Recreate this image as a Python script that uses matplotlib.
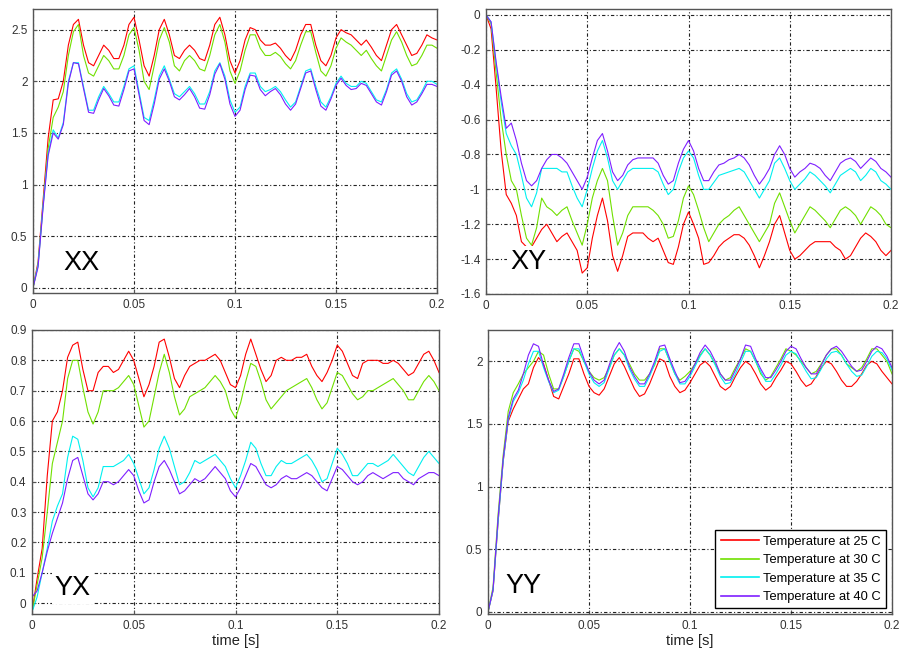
import numpy as np
import matplotlib
matplotlib.use('Agg')
from matplotlib import pyplot as plt
from matplotlib.ticker import FormatStrFormatter

plt.rcParams['font.family'] = ['Liberation Sans', 'DejaVu Sans']

# time axis, one sample every 2.5 ms
t = np.linspace(0, 0.2, 81)

labels = ['Temperature at 25 C', 'Temperature at 30 C',
          'Temperature at 35 C', 'Temperature at 40 C']
colors = ['#ff0000', '#70e000', '#00f0f0', '#7f1fff']

# XX response
xx_25 = [0, 0.25, 0.85, 1.45, 1.82, 1.83, 2.0, 2.35, 2.55, 2.6,
         2.35, 2.18, 2.15, 2.25, 2.35, 2.3, 2.22, 2.22, 2.35, 2.55,
         2.62, 2.4, 2.15, 2.05, 2.25, 2.5, 2.6, 2.45, 2.25, 2.22,
         2.3, 2.35, 2.3, 2.22, 2.2, 2.35, 2.55, 2.62, 2.45, 2.2,
         2.08, 2.2, 2.4, 2.52, 2.5, 2.4, 2.35, 2.35, 2.37, 2.32,
         2.25, 2.2, 2.3, 2.45, 2.55, 2.55, 2.35, 2.2, 2.15, 2.25,
         2.42, 2.5, 2.47, 2.45, 2.4, 2.35, 2.4, 2.33, 2.25, 2.2,
         2.35, 2.5, 2.55, 2.45, 2.35, 2.25, 2.27, 2.35, 2.45, 2.42,
         2.4]
xx_30 = [0, 0.22, 0.8, 1.35, 1.65, 1.75, 1.9, 2.25, 2.48, 2.55,
         2.25, 2.08, 2.05, 2.15, 2.25, 2.2, 2.12, 2.12, 2.25, 2.45,
         2.52, 2.3, 2.0, 1.92, 2.15, 2.4, 2.52, 2.38, 2.15, 2.1,
         2.2, 2.25, 2.2, 2.12, 2.1, 2.25, 2.45, 2.55, 2.38, 2.1,
         1.98, 2.1, 2.3, 2.45, 2.45, 2.32, 2.25, 2.25, 2.28, 2.24,
         2.17, 2.12, 2.2, 2.35, 2.48, 2.48, 2.28, 2.1, 2.05, 2.15,
         2.32, 2.42, 2.38, 2.35, 2.3, 2.25, 2.3, 2.22, 2.15, 2.1,
         2.25, 2.4, 2.48, 2.38, 2.25, 2.15, 2.17, 2.25, 2.35, 2.35,
         2.32]
xx_35 = [0, 0.22, 0.8, 1.3, 1.53, 1.45, 1.6, 2.0, 2.18, 2.18,
         1.95, 1.72, 1.72, 1.85, 1.95, 1.88, 1.8, 1.8, 1.95, 2.12,
         2.15, 1.9, 1.65, 1.62, 1.82, 2.05, 2.15, 2.02, 1.88, 1.85,
         1.9, 1.95, 1.88, 1.78, 1.78, 1.9, 2.1, 2.18, 2.05, 1.82,
         1.7, 1.75, 1.95, 2.08, 2.08, 1.95, 1.9, 1.92, 1.95, 1.9,
         1.82, 1.75, 1.8, 1.95, 2.1, 2.12, 1.95, 1.8, 1.75, 1.85,
         1.98, 2.05, 1.98, 1.95, 1.95, 2.0, 1.98, 1.9, 1.82, 1.8,
         1.92, 2.08, 2.12, 2.02, 1.88, 1.8, 1.82, 1.9, 2.0, 2.0,
         1.97]
xx_40 = [0, 0.2, 0.78, 1.28, 1.5, 1.44, 1.58, 1.98, 2.18, 2.17,
         1.93, 1.7, 1.69, 1.82, 1.93, 1.86, 1.77, 1.76, 1.92, 2.1,
         2.12, 1.87, 1.62, 1.58, 1.78, 2.02, 2.12, 2.0, 1.85, 1.82,
         1.87, 1.93, 1.85, 1.74, 1.73, 1.87, 2.07, 2.17, 2.02, 1.78,
         1.66, 1.72, 1.92, 2.06, 2.05, 1.92, 1.86, 1.9, 1.93, 1.87,
         1.78, 1.72, 1.78, 1.93, 2.08, 2.1, 1.92, 1.76, 1.72, 1.83,
         1.96, 2.03, 1.96, 1.92, 1.93, 1.98, 1.96, 1.88, 1.8, 1.77,
         1.9, 2.06, 2.1, 2.0, 1.85, 1.77, 1.8, 1.88, 1.97, 1.97,
         1.95]

# XY response
xy_25 = [0, -0.08, -0.42, -0.78, -1.03, -1.08, -1.15, -1.3, -1.33, -1.33,
         -1.28, -1.23, -1.2, -1.25, -1.3, -1.27, -1.25, -1.3, -1.35, -1.48,
         -1.45, -1.28, -1.15, -1.05, -1.18, -1.38, -1.47, -1.38, -1.27, -1.25,
         -1.25, -1.25, -1.28, -1.3, -1.28, -1.35, -1.42, -1.43, -1.33, -1.2,
         -1.13, -1.2, -1.28, -1.43, -1.42, -1.38, -1.33, -1.3, -1.28, -1.26,
         -1.26, -1.28, -1.32, -1.38, -1.45, -1.38, -1.3, -1.2, -1.15, -1.25,
         -1.35, -1.4, -1.38, -1.35, -1.32, -1.3, -1.3, -1.3, -1.3, -1.33,
         -1.35, -1.4, -1.38, -1.33, -1.28, -1.25, -1.27, -1.3, -1.35, -1.38,
         -1.35]
xy_30 = [0, -0.05, -0.33, -0.6, -0.8, -0.95, -1.0, -1.15, -1.28, -1.32,
         -1.22, -1.05, -1.1, -1.12, -1.15, -1.12, -1.1, -1.18, -1.25, -1.32,
         -1.2, -1.05, -0.95, -0.88, -0.95, -1.15, -1.32, -1.25, -1.15, -1.1,
         -1.1, -1.1, -1.1, -1.12, -1.15, -1.2, -1.28, -1.27, -1.18, -1.05,
         -0.98, -1.03, -1.12, -1.22, -1.3, -1.25, -1.2, -1.17, -1.15, -1.12,
         -1.1, -1.15, -1.2, -1.25, -1.3, -1.25, -1.2, -1.08, -1.02, -1.1,
         -1.18, -1.25, -1.2, -1.15, -1.1, -1.12, -1.15, -1.18, -1.22, -1.17,
         -1.12, -1.1, -1.12, -1.15, -1.2, -1.15, -1.1, -1.12, -1.15, -1.2,
         -1.22]
xy_35 = [0, -0.04, -0.28, -0.5, -0.68, -0.75, -0.8, -0.92, -1.05, -1.1,
         -1.02, -0.88, -0.88, -0.88, -0.88, -0.9, -0.9, -0.98, -1.05, -1.1,
         -1.0, -0.88, -0.78, -0.72, -0.82, -0.95, -1.0, -0.95, -0.9, -0.88,
         -0.88, -0.88, -0.88, -0.88, -0.9, -0.97, -1.03, -1.0, -0.9, -0.82,
         -0.78, -0.82, -0.92, -1.0, -1.0, -0.96, -0.92, -0.91, -0.9, -0.89,
         -0.88, -0.9, -0.95, -1.0, -1.05, -1.0, -0.95, -0.85, -0.82, -0.88,
         -0.95, -1.0, -0.97, -0.94, -0.9, -0.92, -0.95, -0.98, -1.02, -0.97,
         -0.92, -0.9, -0.88, -0.9, -0.95, -0.92, -0.88, -0.9, -0.95, -0.97,
         -1.0]
xy_40 = [0, -0.04, -0.27, -0.47, -0.65, -0.62, -0.72, -0.85, -0.95, -0.98,
         -0.95, -0.88, -0.83, -0.8, -0.8, -0.82, -0.85, -0.9, -0.95, -1.0,
         -0.93, -0.82, -0.72, -0.68, -0.78, -0.9, -0.95, -0.92, -0.86, -0.83,
         -0.82, -0.82, -0.82, -0.82, -0.85, -0.92, -0.97, -0.95, -0.85, -0.77,
         -0.72, -0.78, -0.88, -0.95, -0.95, -0.9, -0.86, -0.85, -0.83, -0.82,
         -0.8, -0.82, -0.86, -0.92, -0.97, -0.93, -0.88, -0.8, -0.75, -0.8,
         -0.88, -0.93, -0.9, -0.88, -0.85, -0.86, -0.88, -0.92, -0.95, -0.9,
         -0.85, -0.83, -0.82, -0.84, -0.88, -0.85, -0.82, -0.84, -0.88, -0.9,
         -0.93]

# YX response
yx_25 = [-0.03, 0.08, 0.18, 0.42, 0.6, 0.63, 0.7, 0.81, 0.85, 0.86,
         0.77, 0.7, 0.7, 0.76, 0.78, 0.78, 0.76, 0.77, 0.8, 0.83,
         0.8, 0.74, 0.68, 0.72, 0.78, 0.86, 0.87, 0.81, 0.74, 0.71,
         0.75, 0.78, 0.79, 0.8, 0.8, 0.81, 0.82, 0.8, 0.76, 0.72,
         0.71, 0.75, 0.82, 0.87, 0.82, 0.77, 0.73, 0.75, 0.8, 0.81,
         0.8, 0.8, 0.81, 0.81, 0.82, 0.78, 0.75, 0.73, 0.76, 0.8,
         0.85, 0.83, 0.79, 0.75, 0.74, 0.79, 0.8, 0.8, 0.8, 0.79,
         0.79, 0.8, 0.79, 0.77, 0.75, 0.76, 0.79, 0.82, 0.83, 0.8,
         0.76]
yx_30 = [-0.03, 0.06, 0.15, 0.3, 0.46, 0.53, 0.6, 0.74, 0.8, 0.8,
         0.71, 0.63, 0.59, 0.63, 0.7, 0.7, 0.7, 0.71, 0.73, 0.75,
         0.72, 0.65, 0.58, 0.6, 0.68, 0.76, 0.82, 0.76, 0.68, 0.62,
         0.64, 0.68, 0.69, 0.7, 0.71, 0.73, 0.75, 0.73, 0.7, 0.64,
         0.61, 0.66, 0.73, 0.79, 0.78, 0.73, 0.67, 0.64, 0.66, 0.68,
         0.7, 0.71, 0.72, 0.73, 0.74, 0.71, 0.67, 0.64, 0.66, 0.71,
         0.76, 0.75, 0.72, 0.69, 0.67, 0.68, 0.7, 0.7, 0.71, 0.72,
         0.73, 0.74, 0.72, 0.7, 0.67, 0.67, 0.7, 0.73, 0.75, 0.73,
         0.7]
yx_35 = [-0.03, 0.02, 0.1, 0.18, 0.27, 0.32, 0.36, 0.48, 0.55, 0.54,
         0.47, 0.38, 0.35, 0.38, 0.45, 0.45, 0.45, 0.46, 0.47, 0.49,
         0.46, 0.41, 0.36, 0.38, 0.44, 0.51, 0.55, 0.51, 0.45, 0.39,
         0.4, 0.43, 0.47, 0.46, 0.47, 0.48, 0.49, 0.47, 0.45, 0.41,
         0.38, 0.42, 0.47, 0.53, 0.51, 0.46, 0.42, 0.42, 0.45, 0.47,
         0.46, 0.46, 0.47, 0.48, 0.49, 0.47, 0.44, 0.4, 0.41, 0.46,
         0.51, 0.49, 0.46, 0.42, 0.42, 0.44, 0.46, 0.46, 0.45, 0.46,
         0.47, 0.49, 0.47, 0.45, 0.43, 0.42, 0.45, 0.48, 0.5, 0.48,
         0.46]
yx_40 = [0.02, 0.04, 0.1, 0.17, 0.23, 0.28, 0.33, 0.41, 0.47, 0.48,
         0.42, 0.36, 0.34, 0.36, 0.4, 0.4, 0.39, 0.4, 0.42, 0.44,
         0.42, 0.37, 0.33, 0.34, 0.4, 0.45, 0.47, 0.44, 0.4, 0.36,
         0.37, 0.39, 0.41, 0.4, 0.41, 0.43, 0.45, 0.43, 0.41, 0.37,
         0.35, 0.38, 0.42, 0.46, 0.45, 0.42, 0.39, 0.38, 0.39, 0.41,
         0.42, 0.41, 0.41, 0.42, 0.43, 0.42, 0.4, 0.38, 0.37, 0.41,
         0.45, 0.44, 0.42, 0.4, 0.39, 0.4, 0.42, 0.43, 0.42, 0.41,
         0.42, 0.43, 0.43, 0.41, 0.4, 0.39, 0.41, 0.42, 0.43, 0.43,
         0.42]

# YY response
yy_25 = [0, 0.17, 0.72, 1.2, 1.52, 1.62, 1.7, 1.78, 1.82, 1.95,
         2.03, 1.98, 1.85, 1.72, 1.7, 1.8, 1.9, 2.02, 2.02, 1.9,
         1.8, 1.75, 1.73, 1.78, 1.88, 1.98, 2.03, 1.96, 1.87, 1.78,
         1.72, 1.74, 1.82, 1.92, 2.02, 2.0, 1.88, 1.8, 1.75, 1.77,
         1.83, 1.9, 1.97, 2.0, 1.96, 1.88, 1.8, 1.77, 1.8, 1.88,
         1.95, 2.0, 1.97, 1.9, 1.82, 1.77, 1.8, 1.87, 1.93, 2.0,
         1.98, 1.92, 1.85, 1.8, 1.82, 1.88, 1.95, 2.0, 1.98, 1.92,
         1.85, 1.8, 1.8, 1.84, 1.9, 1.97, 2.0, 1.98, 1.92, 1.87,
         1.82]
yy_30 = [0, 0.2, 0.78, 1.25, 1.6, 1.75, 1.82, 1.9, 1.95, 2.0,
         2.08, 2.05, 1.9, 1.78, 1.78, 1.88, 2.0, 2.1, 2.08, 2.0,
         1.92, 1.87, 1.85, 1.87, 1.95, 2.05, 2.1, 2.05, 1.98, 1.9,
         1.85, 1.85, 1.9, 1.97, 2.1, 2.1, 2.0, 1.9, 1.85, 1.88,
         1.92, 1.98, 2.05, 2.1, 2.05, 1.98, 1.9, 1.85, 1.87, 1.95,
         2.02, 2.1, 2.08, 2.0, 1.9, 1.85, 1.88, 1.95, 2.02, 2.1,
         2.08, 2.05, 2.0, 1.95, 1.9, 1.92, 1.98, 2.05, 2.1, 2.1,
         2.05, 1.98, 1.95, 1.92, 1.95, 2.02, 2.1, 2.1, 2.05, 2.0,
         1.9]
yy_35 = [0, 0.17, 0.72, 1.2, 1.53, 1.68, 1.75, 1.85, 1.98, 2.08,
         2.08, 1.95, 1.84, 1.75, 1.77, 1.88, 2.0, 2.1, 2.1, 2.0,
         1.9, 1.83, 1.8, 1.83, 1.94, 2.05, 2.1, 2.05, 1.94, 1.86,
         1.8, 1.8, 1.88, 1.98, 2.08, 2.1, 2.0, 1.9, 1.82, 1.82,
         1.88, 1.96, 2.04, 2.1, 2.05, 1.97, 1.88, 1.82, 1.83, 1.9,
         1.99, 2.08, 2.08, 2.0, 1.92, 1.84, 1.84, 1.9, 1.97, 2.05,
         2.08, 2.06, 1.99, 1.92, 1.86, 1.87, 1.94, 2.02, 2.07, 2.08,
         2.05, 1.98, 1.92, 1.88, 1.89, 1.96, 2.04, 2.08, 2.07, 2.02,
         1.93]
yy_40 = [0, 0.18, 0.75, 1.22, 1.55, 1.7, 1.77, 1.9, 2.05, 2.14,
         2.12, 1.97, 1.85, 1.76, 1.78, 1.9, 2.03, 2.14, 2.14, 2.02,
         1.92, 1.85, 1.82, 1.85, 1.97, 2.08, 2.15, 2.08, 1.96, 1.88,
         1.82, 1.82, 1.9, 2.0, 2.12, 2.13, 2.02, 1.92, 1.83, 1.84,
         1.9, 1.98, 2.07, 2.13, 2.08, 2.0, 1.9, 1.85, 1.85, 1.93,
         2.02, 2.13, 2.12, 2.02, 1.94, 1.87, 1.87, 1.93, 2.0, 2.08,
         2.12, 2.1, 2.02, 1.95, 1.9, 1.9, 1.97, 2.05, 2.1, 2.12,
         2.08, 2.02, 1.96, 1.92, 1.93, 2.0, 2.08, 2.12, 2.1, 2.04,
         1.95]

W, H = 902, 662
fig = plt.figure(figsize=(W / 100, H / 100), dpi=100)


def px_axes(left, top, right, bottom):
    # axes box given in pixel edges of the reference
    return fig.add_axes([left / W, 1 - bottom / H, (right - left) / W, (bottom - top) / H])


panels = [
    # name, series, ylim, yticks, box(px), text pos (axes fraction), xlabel
    ('XX', [xx_25, xx_30, xx_35, xx_40], (-0.05, 2.7), [0, 0.5, 1, 1.5, 2, 2.5],
     (33, 9, 437, 293), (0.074, 0.105), False),
    ('XY', [xy_25, xy_30, xy_35, xy_40], (-1.6, 0.034), [-1.6, -1.4, -1.2, -1, -0.8, -0.6, -0.4, -0.2, 0],
     (486, 9, 891, 294), (0.059, 0.112), False),
    ('YX', [yx_25, yx_30, yx_35, yx_40], (-0.036, 0.9), [0, 0.1, 0.2, 0.3, 0.4, 0.5, 0.6, 0.7, 0.8, 0.9],
     (32, 330, 439, 614), (0.056, 0.092), True),
    ('YY', [yy_25, yy_30, yy_35, yy_40], (-0.016, 2.25), [0, 0.5, 1, 1.5, 2],
     (488, 330, 892, 614), (0.042, 0.100), True),
]

for name, series, ylim, yticks, box, tpos, has_xlabel in panels:
    ax = px_axes(*box)
    for vals, col, lab in zip(series, colors, labels):
        ax.plot(t, vals, color=col, lw=0.8, label=lab)
    ax.set_xlim(0, 0.2)
    ax.set_ylim(*ylim)
    ax.set_xticks([0, 0.05, 0.1, 0.15, 0.2])
    ax.set_yticks(yticks)
    ax.xaxis.set_major_formatter(FormatStrFormatter('%g'))
    ax.yaxis.set_major_formatter(FormatStrFormatter('%g'))
    ax.grid(True, color='#222222', lw=0.8, linestyle=(0, (3, 2, 1, 2)))
    ax.set_axisbelow(True)
    ax.tick_params(direction='in', length=3, width=0.8, colors='#555555',
                   labelcolor='#333333', labelsize=8.5, pad=4)
    for sp in ax.spines.values():
        sp.set_color('#555555')
        sp.set_linewidth(1.0)
    ax.text(tpos[0], tpos[1], name, transform=ax.transAxes, fontsize=19.5,
            va='center', ha='left', color='black', zorder=5,
            bbox=dict(fc='white', ec='none', pad=2))
    if has_xlabel:
        ax.set_xlabel('time [s]', fontsize=10.5, color='#222222', labelpad=2)
    if name == 'YY':
        leg = ax.legend(loc='lower right', fontsize=9.3, handlelength=3.0,
                        labelspacing=0.5, borderaxespad=0.45, fancybox=False,
                        framealpha=1, borderpad=0.4, handletextpad=0.3)
        leg.get_frame().set_edgecolor('black')
        leg.get_frame().set_linewidth(1.0)
        for line in leg.get_lines():
            line.set_linewidth(1.2)

fig.savefig('out.png', dpi=100)
